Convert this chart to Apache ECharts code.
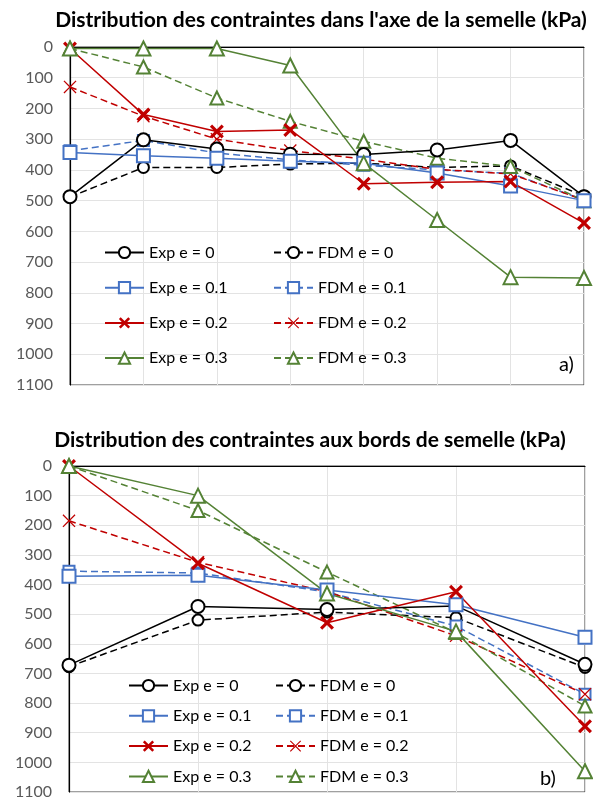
<!DOCTYPE html>
<html>
<head>
<meta charset="utf-8">
<script src="https://cdn.jsdelivr.net/npm/echarts@6/dist/echarts.min.js"></script>
<style>
html,body{margin:0;padding:0;background:#fff;}
#c{width:593px;height:800px;}
</style>
</head>
<body>
<div id="c"></div>
<script>
// ---- Data: panel a) "dans l'axe" ----
var axisCategories = ['1','2','3','4','5','6','7','8'];
var axisExp0  = [487, 302, 332, 349, 350, 335, 304, 487];
var axisFdm0  = [488, 392, 392, 381, 378, 392, 387, 485];
var axisExp01 = [343, 354, 362, 372, 378, 410, 452, 500];
var axisFdm01 = [338, 304, 345, 367, 385, 400, 411, 498];
var axisExp02 = [5, 220, 275, 270, 445, 440, 438, 573];
var axisFdm02 = [130, 225, 300, 337, 365, 398, 413, 498];
var axisExp03 = [5, 5, 5, 60, 378, 563, 749, 752];
var axisFdm03 = [5, 65, 166, 242, 307, 362, 389, 500];

// ---- Data: panel b) "aux bords" ----
var edgeCategories = ['1','2','3','4','5'];
var edgeExp0  = [672, 474, 484, 472, 669];
var edgeFdm0  = [677, 520, 493, 512, 680];
var edgeExp01 = [372, 369, 418, 468, 578];
var edgeFdm01 = [355, 361, 425, 540, 770];
var edgeExp02 = [0, 328, 529, 424, 878];
var edgeFdm02 = [185, 325, 424, 573, 770];
var edgeExp03 = [0, 100, 430, 558, 1030];
var edgeFdm03 = [0, 150, 358, 562, 810];

var yTicks = [0,100,200,300,400,500,600,700,800,900,1000,1100];

var names = ['Exp e = 0','FDM e = 0','Exp e = 0.1','FDM e = 0.1','Exp e = 0.2','FDM e = 0.2','Exp e = 0.3','FDM e = 0.3'];
var colors = ['#000000','#000000','#4472C4','#4472C4','#C00000','#C00000','#548235','#548235'];

var FONT = 'Lato';
var xThick = 'path://M0,1.6 L1.6,0 L5,3.4 L8.4,0 L10,1.6 L6.6,5 L10,8.4 L8.4,10 L5,6.6 L1.6,10 L0,8.4 L3.4,5 Z';
var xThin = 'path://M0,0.7 L0.7,0 L5,4.3 L9.3,0 L10,0.7 L5.7,5 L10,9.3 L9.3,10 L5,5.7 L0.7,10 L0,9.3 L4.3,5 Z';

function mkSeries(idx, data, gi) {
  var isExp = idx % 2 === 0;
  var kind = Math.floor(idx / 2);
  var c = colors[idx];
  var sym, size, bw;
  if (kind === 0) { sym = 'emptyCircle'; size = isExp ? 13 : 11; bw = isExp ? 3 : 1.2; }
  else if (kind === 1) { sym = 'emptyRect'; size = isExp ? 13 : 11; bw = isExp ? 3 : 1.2; }
  else if (kind === 2) { sym = isExp ? xThick : xThin; size = isExp ? 14 : 13; bw = 0; }
  else { sym = 'emptyTriangle'; size = isExp ? 14 : 13; bw = isExp ? 3 : 1.2; }
  return {
    name: names[idx],
    type: 'line',
    xAxisIndex: gi, yAxisIndex: gi,
    data: data,
    symbol: sym,
    symbolSize: size,
    showAllSymbol: true,
    z: isExp ? 3 : 2,
    lineStyle: { color: c, width: 1.5, type: isExp ? 'solid' : [7, 4] },
    itemStyle: { color: c, borderColor: c, borderWidth: bw },
    emphasis: { disabled: true },
    animation: false
  };
}

var aData = [axisExp0, axisFdm0, axisExp01, axisFdm01, axisExp02, axisFdm02, axisExp03, axisFdm03];
var bData = [edgeExp0, edgeFdm0, edgeExp01, edgeFdm01, edgeExp02, edgeFdm02, edgeExp03, edgeFdm03];

var series = [];
for (var i = 0; i < 8; i++) series.push(mkSeries(i, aData[i], 0));
for (var j = 0; j < 8; j++) series.push(mkSeries(j, bData[j], 1));

function yAx(gi) {
  return {
    type: 'value', gridIndex: gi, inverse: true,
    min: yTicks[0], max: yTicks[yTicks.length - 1], interval: 100,
    axisLine: { show: true, lineStyle: { color: '#000', width: 1.2 } },
    axisTick: { show: false },
    axisLabel: { color: '#595959', fontFamily: FONT, fontSize: 16, margin: 17,
      formatter: function (v) { return String(v); } },
    splitLine: { show: true, lineStyle: { color: '#E3E3E3', width: 1 } }
  };
}
function xAx(gi, cats) {
  return {
    type: 'category', gridIndex: gi, data: cats, boundaryGap: false, position: 'top',
    axisLine: { show: true, lineStyle: { color: '#000', width: 1.2 } },
    axisTick: { show: false },
    axisLabel: { show: false },
    splitLine: { show: true, lineStyle: { color: '#E3E3E3', width: 1 } }
  };
}

function legend(left, top, gap, list) {
  return {
    orient: 'vertical', left: left, top: top, height: 130, padding: 0,
    itemWidth: 39, itemHeight: 14, itemGap: gap, itemTextGap: 5,
    textStyle: { fontFamily: FONT, fontSize: 16, color: '#000' },
    data: list, selectedMode: false
  };
}

var chart = echarts.init(document.getElementById('c'), null, { renderer: 'canvas' });
chart.setOption({
  backgroundColor: '#fff',
  animation: false,
  title: [
    { text: "Distribution des contraintes dans l'axe de la semelle (kPa)", left: 316, top: 5, textAlign: 'center',
      textStyle: { fontFamily: FONT, fontWeight: 'bold', fontSize: 21, color: '#000' } },
    { text: 'Distribution des contraintes aux bords de semelle (kPa)', left: 305, top: 425, textAlign: 'center',
      textStyle: { fontFamily: FONT, fontWeight: 'bold', fontSize: 21, color: '#000' } }
  ],
  grid: [
    { left: 70, right: 9, top: 47, height: 338, show: true, borderColor: '#404040', borderWidth: 1, containLabel: false },
    { left: 69, right: 8, top: 466, height: 334, show: true, borderColor: '#404040', borderWidth: 1, containLabel: false }
  ],
  xAxis: [xAx(0, axisCategories), xAx(1, edgeCategories)],
  yAxis: [yAx(0), yAx(1)],
  legend: [
    legend(104, 244.5, 19.2, ['Exp e = 0','Exp e = 0.1','Exp e = 0.2','Exp e = 0.3']),
    legend(273, 244.5, 19.2, ['FDM e = 0','FDM e = 0.1','FDM e = 0.2','FDM e = 0.3']),
    legend(128, 677.5, 14.3, ['Exp e = 0','Exp e = 0.1','Exp e = 0.2','Exp e = 0.3']),
    legend(275, 677.5, 14.3, ['FDM e = 0','FDM e = 0.1','FDM e = 0.2','FDM e = 0.3'])
  ],
  graphic: [
    { type: 'text', left: 559, top: 355, style: { text: 'a)', fontFamily: FONT, fontSize: 20, fill: '#000' } },
    { type: 'text', left: 540, top: 769, style: { text: 'b)', fontFamily: FONT, fontSize: 20, fill: '#000' } }
  ],
  series: series
});
</script>
</body>
</html>
